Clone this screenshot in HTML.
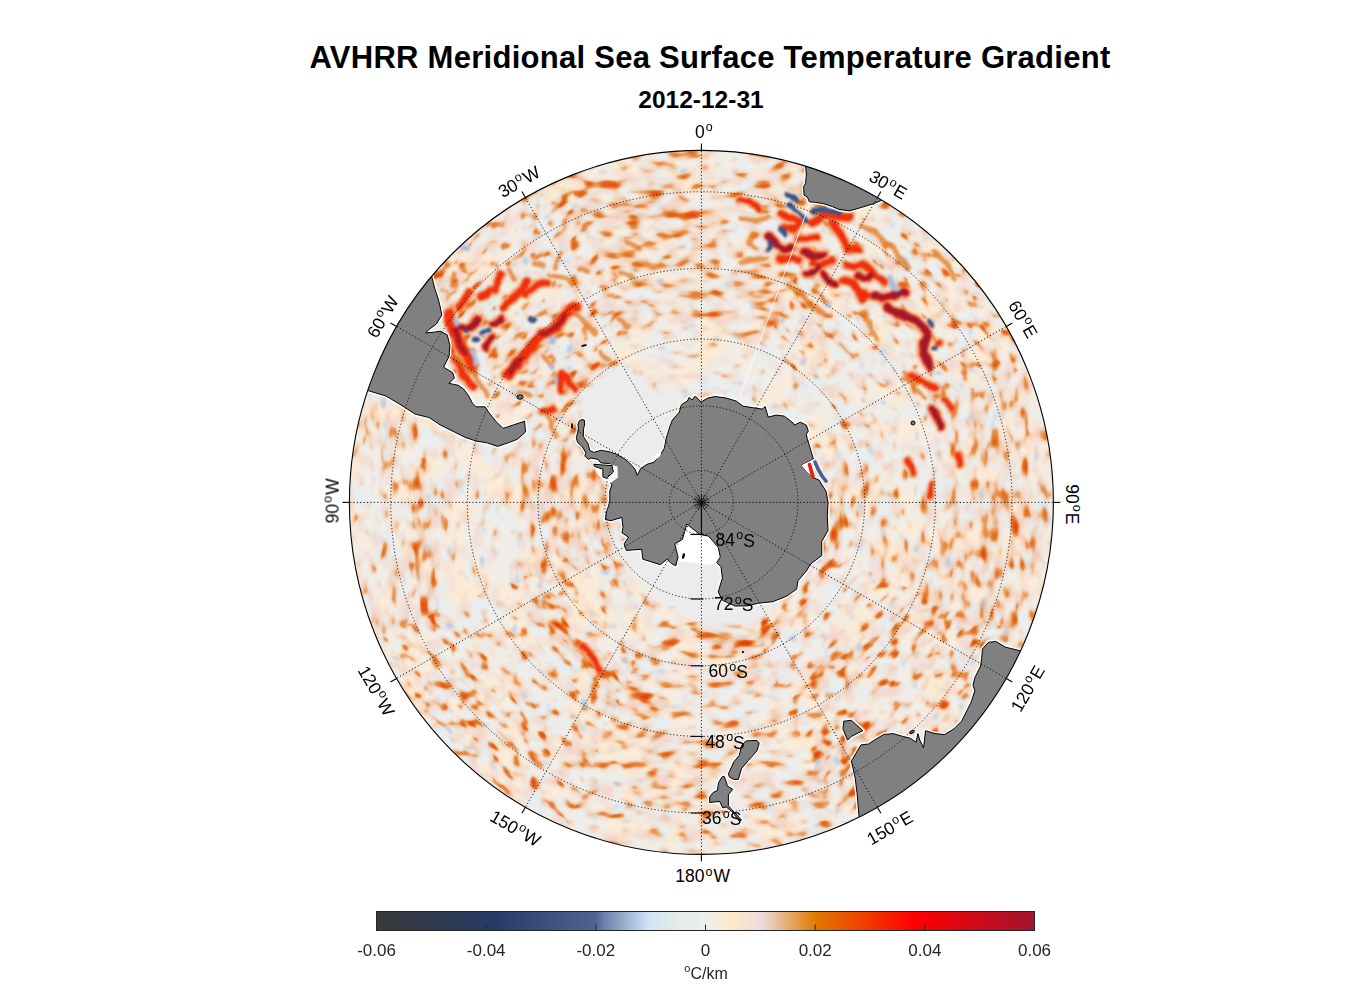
<!DOCTYPE html><html><head><meta charset="utf-8"><style>html,body{margin:0;padding:0;background:#fff;width:1356px;height:1000px;overflow:hidden}svg{display:block}text{font-family:"Liberation Sans",sans-serif}</style></head><body><svg width="1356" height="1000" viewBox="0 0 1356 1000"><text x="710" y="68" text-anchor="middle" font-size="31" letter-spacing="0.27" font-weight="bold" fill="#000">AVHRR Meridional Sea Surface Temperature Gradient</text><text x="701" y="108" text-anchor="middle" font-size="24.5" font-weight="bold" fill="#000">2012-12-31</text><defs><clipPath id="cc"><circle cx="701.4" cy="502.4" r="352.0"/></clipPath><filter id="bl" x="-5%" y="-5%" width="110%" height="110%"><feGaussianBlur stdDeviation="1"/></filter><filter id="bl3" x="-20%" y="-20%" width="140%" height="140%"><feGaussianBlur stdDeviation="2.5"/></filter><filter id="fcream" filterUnits="userSpaceOnUse" x="340" y="140" width="724" height="724" color-interpolation-filters="sRGB"><feTurbulence type="fractalNoise" baseFrequency="0.025" numOctaves="2" seed="8" result="t"/><feColorMatrix in="t" type="matrix" values="0 0 0 0 0 0 0 0 0 0 0 0 0 0 0 1 0 0 0 0" result="na"/><feComposite in="na" in2="SourceAlpha" operator="arithmetic" k1="0" k2="1" k3="0.20" k4="0" result="s"/><feComponentTransfer in="s" result="th"><feFuncA type="linear" slope="4.0" intercept="-2.000"/></feComponentTransfer><feGaussianBlur in="th" stdDeviation="2.0" result="bb"/><feFlood flood-color="#fcebd4"/><feComposite in2="bb" operator="in"/></filter><filter id="fgray" filterUnits="userSpaceOnUse" x="340" y="140" width="724" height="724" color-interpolation-filters="sRGB"><feTurbulence type="fractalNoise" baseFrequency="0.04" numOctaves="2" seed="17" result="t"/><feColorMatrix in="t" type="matrix" values="0 0 0 0 0 0 0 0 0 0 0 0 0 0 0 1 0 0 0 0" result="na"/><feComposite in="na" in2="SourceAlpha" operator="arithmetic" k1="0" k2="1" k3="0.20" k4="0" result="s"/><feComponentTransfer in="s" result="th"><feFuncA type="linear" slope="4.0" intercept="-2.200"/></feComponentTransfer><feGaussianBlur in="th" stdDeviation="1.5" result="bb"/><feFlood flood-color="#e8eef0"/><feComposite in2="bb" operator="in"/></filter><filter id="fsec0" filterUnits="userSpaceOnUse" x="560" y="140" width="282" height="366" color-interpolation-filters="sRGB"><feTurbulence type="fractalNoise" baseFrequency="0.07" numOctaves="2" seed="21" result="p_n"/><feGaussianBlur in="p_n" stdDeviation="3.5 0.7" result="p_m"/><feColorMatrix in="p_m" type="matrix" values="0 0 0 0 0 0 0 0 0 0 0 0 0 0 0 1 0 0 0 0" result="p_a"/><feComposite in="p_a" in2="SourceAlpha" operator="arithmetic" k1="0" k2="1" k3="0.25" k4="0" result="p"/><feComponentTransfer in="p" result="P_t"><feFuncA type="linear" slope="4.0" intercept="-2.120"/></feComponentTransfer><feGaussianBlur in="P_t" stdDeviation="1.2" result="P_b"/><feFlood flood-color="#f3d8cc" result="P_f"/><feComposite in="P_f" in2="P_b" operator="in" result="P"/><feTurbulence type="fractalNoise" baseFrequency="0.09" numOctaves="2" seed="33" result="q_n"/><feGaussianBlur in="q_n" stdDeviation="3.5 0.7" result="q_m"/><feColorMatrix in="q_m" type="matrix" values="0 0 0 0 0 0 0 0 0 0 0 0 0 0 0 1 0 0 0 0" result="q_a"/><feComposite in="q_a" in2="SourceAlpha" operator="arithmetic" k1="0" k2="1" k3="0.10" k4="0" result="q"/><feComponentTransfer in="q" result="B_t"><feFuncA type="linear" slope="8.0" intercept="-5.440"/></feComponentTransfer><feGaussianBlur in="B_t" stdDeviation="0.8" result="B_b"/><feFlood flood-color="#bccde6" result="B_f"/><feComposite in="B_f" in2="B_b" operator="in" result="B"/><feMerge><feMergeNode in="P"/><feMergeNode in="B"/></feMerge></filter><filter id="fmain0" filterUnits="userSpaceOnUse" x="560" y="140" width="282" height="366" color-interpolation-filters="sRGB"><feTurbulence type="fractalNoise" baseFrequency="0.1" numOctaves="2" seed="5" result="m_n"/><feGaussianBlur in="m_n" stdDeviation="3.5 0.7" result="m_m"/><feColorMatrix in="m_m" type="matrix" values="0 0 0 0 0 0 0 0 0 0 0 0 0 0 0 1 0 0 0 0" result="m_a"/><feComposite in="m_a" in2="SourceAlpha" operator="arithmetic" k1="0" k2="1" k3="0.45" k4="0" result="m"/><feComponentTransfer in="m" result="H_t"><feFuncA type="linear" slope="5.0" intercept="-3.000"/></feComponentTransfer><feGaussianBlur in="H_t" stdDeviation="1.0" result="H_b"/><feFlood flood-color="#efae7c" result="H_f"/><feComposite in="H_f" in2="H_b" operator="in" result="H"/><feComponentTransfer in="m" result="O_t"><feFuncA type="linear" slope="8.0" intercept="-5.520"/></feComponentTransfer><feGaussianBlur in="O_t" stdDeviation="0.7" result="O_b"/><feFlood flood-color="#e27826" result="O_f"/><feComposite in="O_f" in2="O_b" operator="in" result="O"/><feComponentTransfer in="m" result="Rr_t"><feFuncA type="linear" slope="8.0" intercept="-6.400"/></feComponentTransfer><feGaussianBlur in="Rr_t" stdDeviation="0.7" result="Rr_b"/><feFlood flood-color="#ee3a12" result="Rr_f"/><feComposite in="Rr_f" in2="Rr_b" operator="in" result="Rr"/><feMerge><feMergeNode in="H"/><feMergeNode in="O"/><feMergeNode in="Rr"/></feMerge></filter><filter id="fsec1" filterUnits="userSpaceOnUse" x="697" y="168" width="339" height="339" color-interpolation-filters="sRGB"><feTurbulence type="fractalNoise" baseFrequency="0.07" numOctaves="2" seed="21" result="p_n"/><feConvolveMatrix in="p_n" order="7" kernelMatrix="1 0 0 0 0 0 0 0 2 0 0 0 0 0 0 0 3 0 0 0 0 0 0 0 4 0 0 0 0 0 0 0 3 0 0 0 0 0 0 0 2 0 0 0 0 0 0 0 1" divisor="16" result="p_m_"/><feGaussianBlur in="p_m_" stdDeviation="0.6" result="p_m"/><feColorMatrix in="p_m" type="matrix" values="0 0 0 0 0 0 0 0 0 0 0 0 0 0 0 1 0 0 0 0" result="p_a"/><feComposite in="p_a" in2="SourceAlpha" operator="arithmetic" k1="0" k2="1" k3="0.25" k4="0" result="p"/><feComponentTransfer in="p" result="P_t"><feFuncA type="linear" slope="4.0" intercept="-2.120"/></feComponentTransfer><feGaussianBlur in="P_t" stdDeviation="1.2" result="P_b"/><feFlood flood-color="#f3d8cc" result="P_f"/><feComposite in="P_f" in2="P_b" operator="in" result="P"/><feTurbulence type="fractalNoise" baseFrequency="0.09" numOctaves="2" seed="33" result="q_n"/><feConvolveMatrix in="q_n" order="7" kernelMatrix="1 0 0 0 0 0 0 0 2 0 0 0 0 0 0 0 3 0 0 0 0 0 0 0 4 0 0 0 0 0 0 0 3 0 0 0 0 0 0 0 2 0 0 0 0 0 0 0 1" divisor="16" result="q_m_"/><feGaussianBlur in="q_m_" stdDeviation="0.6" result="q_m"/><feColorMatrix in="q_m" type="matrix" values="0 0 0 0 0 0 0 0 0 0 0 0 0 0 0 1 0 0 0 0" result="q_a"/><feComposite in="q_a" in2="SourceAlpha" operator="arithmetic" k1="0" k2="1" k3="0.10" k4="0" result="q"/><feComponentTransfer in="q" result="B_t"><feFuncA type="linear" slope="8.0" intercept="-5.440"/></feComponentTransfer><feGaussianBlur in="B_t" stdDeviation="0.8" result="B_b"/><feFlood flood-color="#bccde6" result="B_f"/><feComposite in="B_f" in2="B_b" operator="in" result="B"/><feMerge><feMergeNode in="P"/><feMergeNode in="B"/></feMerge></filter><filter id="fmain1" filterUnits="userSpaceOnUse" x="697" y="168" width="339" height="339" color-interpolation-filters="sRGB"><feTurbulence type="fractalNoise" baseFrequency="0.1" numOctaves="2" seed="5" result="m_n"/><feConvolveMatrix in="m_n" order="7" kernelMatrix="1 0 0 0 0 0 0 0 2 0 0 0 0 0 0 0 3 0 0 0 0 0 0 0 4 0 0 0 0 0 0 0 3 0 0 0 0 0 0 0 2 0 0 0 0 0 0 0 1" divisor="16" result="m_m_"/><feGaussianBlur in="m_m_" stdDeviation="0.6" result="m_m"/><feColorMatrix in="m_m" type="matrix" values="0 0 0 0 0 0 0 0 0 0 0 0 0 0 0 1 0 0 0 0" result="m_a"/><feComposite in="m_a" in2="SourceAlpha" operator="arithmetic" k1="0" k2="1" k3="0.45" k4="0" result="m"/><feComponentTransfer in="m" result="H_t"><feFuncA type="linear" slope="5.0" intercept="-3.000"/></feComponentTransfer><feGaussianBlur in="H_t" stdDeviation="1.0" result="H_b"/><feFlood flood-color="#efae7c" result="H_f"/><feComposite in="H_f" in2="H_b" operator="in" result="H"/><feComponentTransfer in="m" result="O_t"><feFuncA type="linear" slope="8.0" intercept="-5.520"/></feComponentTransfer><feGaussianBlur in="O_t" stdDeviation="0.7" result="O_b"/><feFlood flood-color="#e27826" result="O_f"/><feComposite in="O_f" in2="O_b" operator="in" result="O"/><feComponentTransfer in="m" result="Rr_t"><feFuncA type="linear" slope="8.0" intercept="-6.400"/></feComponentTransfer><feGaussianBlur in="Rr_t" stdDeviation="0.7" result="Rr_b"/><feFlood flood-color="#ee3a12" result="Rr_f"/><feComposite in="Rr_f" in2="Rr_b" operator="in" result="Rr"/><feMerge><feMergeNode in="H"/><feMergeNode in="O"/><feMergeNode in="Rr"/></feMerge></filter><filter id="fsec2" filterUnits="userSpaceOnUse" x="697" y="361" width="366" height="282" color-interpolation-filters="sRGB"><feTurbulence type="fractalNoise" baseFrequency="0.07" numOctaves="2" seed="21" result="p_n"/><feGaussianBlur in="p_n" stdDeviation="0.7 3.5" result="p_m"/><feColorMatrix in="p_m" type="matrix" values="0 0 0 0 0 0 0 0 0 0 0 0 0 0 0 1 0 0 0 0" result="p_a"/><feComposite in="p_a" in2="SourceAlpha" operator="arithmetic" k1="0" k2="1" k3="0.25" k4="0" result="p"/><feComponentTransfer in="p" result="P_t"><feFuncA type="linear" slope="4.0" intercept="-2.120"/></feComponentTransfer><feGaussianBlur in="P_t" stdDeviation="1.2" result="P_b"/><feFlood flood-color="#f3d8cc" result="P_f"/><feComposite in="P_f" in2="P_b" operator="in" result="P"/><feTurbulence type="fractalNoise" baseFrequency="0.09" numOctaves="2" seed="33" result="q_n"/><feGaussianBlur in="q_n" stdDeviation="0.7 3.5" result="q_m"/><feColorMatrix in="q_m" type="matrix" values="0 0 0 0 0 0 0 0 0 0 0 0 0 0 0 1 0 0 0 0" result="q_a"/><feComposite in="q_a" in2="SourceAlpha" operator="arithmetic" k1="0" k2="1" k3="0.10" k4="0" result="q"/><feComponentTransfer in="q" result="B_t"><feFuncA type="linear" slope="8.0" intercept="-5.440"/></feComponentTransfer><feGaussianBlur in="B_t" stdDeviation="0.8" result="B_b"/><feFlood flood-color="#bccde6" result="B_f"/><feComposite in="B_f" in2="B_b" operator="in" result="B"/><feMerge><feMergeNode in="P"/><feMergeNode in="B"/></feMerge></filter><filter id="fmain2" filterUnits="userSpaceOnUse" x="697" y="361" width="366" height="282" color-interpolation-filters="sRGB"><feTurbulence type="fractalNoise" baseFrequency="0.1" numOctaves="2" seed="5" result="m_n"/><feGaussianBlur in="m_n" stdDeviation="0.7 3.5" result="m_m"/><feColorMatrix in="m_m" type="matrix" values="0 0 0 0 0 0 0 0 0 0 0 0 0 0 0 1 0 0 0 0" result="m_a"/><feComposite in="m_a" in2="SourceAlpha" operator="arithmetic" k1="0" k2="1" k3="0.45" k4="0" result="m"/><feComponentTransfer in="m" result="H_t"><feFuncA type="linear" slope="5.0" intercept="-3.000"/></feComponentTransfer><feGaussianBlur in="H_t" stdDeviation="1.0" result="H_b"/><feFlood flood-color="#efae7c" result="H_f"/><feComposite in="H_f" in2="H_b" operator="in" result="H"/><feComponentTransfer in="m" result="O_t"><feFuncA type="linear" slope="8.0" intercept="-5.520"/></feComponentTransfer><feGaussianBlur in="O_t" stdDeviation="0.7" result="O_b"/><feFlood flood-color="#e27826" result="O_f"/><feComposite in="O_f" in2="O_b" operator="in" result="O"/><feComponentTransfer in="m" result="Rr_t"><feFuncA type="linear" slope="8.0" intercept="-6.400"/></feComponentTransfer><feGaussianBlur in="Rr_t" stdDeviation="0.7" result="Rr_b"/><feFlood flood-color="#ee3a12" result="Rr_f"/><feComposite in="Rr_f" in2="Rr_b" operator="in" result="Rr"/><feMerge><feMergeNode in="H"/><feMergeNode in="O"/><feMergeNode in="Rr"/></feMerge></filter><filter id="fsec3" filterUnits="userSpaceOnUse" x="697" y="498" width="339" height="339" color-interpolation-filters="sRGB"><feTurbulence type="fractalNoise" baseFrequency="0.07" numOctaves="2" seed="21" result="p_n"/><feConvolveMatrix in="p_n" order="7" kernelMatrix="0 0 0 0 0 0 1 0 0 0 0 0 2 0 0 0 0 0 3 0 0 0 0 0 4 0 0 0 0 0 3 0 0 0 0 0 2 0 0 0 0 0 1 0 0 0 0 0 0" divisor="16" result="p_m_"/><feGaussianBlur in="p_m_" stdDeviation="0.6" result="p_m"/><feColorMatrix in="p_m" type="matrix" values="0 0 0 0 0 0 0 0 0 0 0 0 0 0 0 1 0 0 0 0" result="p_a"/><feComposite in="p_a" in2="SourceAlpha" operator="arithmetic" k1="0" k2="1" k3="0.25" k4="0" result="p"/><feComponentTransfer in="p" result="P_t"><feFuncA type="linear" slope="4.0" intercept="-2.120"/></feComponentTransfer><feGaussianBlur in="P_t" stdDeviation="1.2" result="P_b"/><feFlood flood-color="#f3d8cc" result="P_f"/><feComposite in="P_f" in2="P_b" operator="in" result="P"/><feTurbulence type="fractalNoise" baseFrequency="0.09" numOctaves="2" seed="33" result="q_n"/><feConvolveMatrix in="q_n" order="7" kernelMatrix="0 0 0 0 0 0 1 0 0 0 0 0 2 0 0 0 0 0 3 0 0 0 0 0 4 0 0 0 0 0 3 0 0 0 0 0 2 0 0 0 0 0 1 0 0 0 0 0 0" divisor="16" result="q_m_"/><feGaussianBlur in="q_m_" stdDeviation="0.6" result="q_m"/><feColorMatrix in="q_m" type="matrix" values="0 0 0 0 0 0 0 0 0 0 0 0 0 0 0 1 0 0 0 0" result="q_a"/><feComposite in="q_a" in2="SourceAlpha" operator="arithmetic" k1="0" k2="1" k3="0.10" k4="0" result="q"/><feComponentTransfer in="q" result="B_t"><feFuncA type="linear" slope="8.0" intercept="-5.440"/></feComponentTransfer><feGaussianBlur in="B_t" stdDeviation="0.8" result="B_b"/><feFlood flood-color="#bccde6" result="B_f"/><feComposite in="B_f" in2="B_b" operator="in" result="B"/><feMerge><feMergeNode in="P"/><feMergeNode in="B"/></feMerge></filter><filter id="fmain3" filterUnits="userSpaceOnUse" x="697" y="498" width="339" height="339" color-interpolation-filters="sRGB"><feTurbulence type="fractalNoise" baseFrequency="0.1" numOctaves="2" seed="5" result="m_n"/><feConvolveMatrix in="m_n" order="7" kernelMatrix="0 0 0 0 0 0 1 0 0 0 0 0 2 0 0 0 0 0 3 0 0 0 0 0 4 0 0 0 0 0 3 0 0 0 0 0 2 0 0 0 0 0 1 0 0 0 0 0 0" divisor="16" result="m_m_"/><feGaussianBlur in="m_m_" stdDeviation="0.6" result="m_m"/><feColorMatrix in="m_m" type="matrix" values="0 0 0 0 0 0 0 0 0 0 0 0 0 0 0 1 0 0 0 0" result="m_a"/><feComposite in="m_a" in2="SourceAlpha" operator="arithmetic" k1="0" k2="1" k3="0.45" k4="0" result="m"/><feComponentTransfer in="m" result="H_t"><feFuncA type="linear" slope="5.0" intercept="-3.000"/></feComponentTransfer><feGaussianBlur in="H_t" stdDeviation="1.0" result="H_b"/><feFlood flood-color="#efae7c" result="H_f"/><feComposite in="H_f" in2="H_b" operator="in" result="H"/><feComponentTransfer in="m" result="O_t"><feFuncA type="linear" slope="8.0" intercept="-5.520"/></feComponentTransfer><feGaussianBlur in="O_t" stdDeviation="0.7" result="O_b"/><feFlood flood-color="#e27826" result="O_f"/><feComposite in="O_f" in2="O_b" operator="in" result="O"/><feComponentTransfer in="m" result="Rr_t"><feFuncA type="linear" slope="8.0" intercept="-6.400"/></feComponentTransfer><feGaussianBlur in="Rr_t" stdDeviation="0.7" result="Rr_b"/><feFlood flood-color="#ee3a12" result="Rr_f"/><feComposite in="Rr_f" in2="Rr_b" operator="in" result="Rr"/><feMerge><feMergeNode in="H"/><feMergeNode in="O"/><feMergeNode in="Rr"/></feMerge></filter><filter id="fsec4" filterUnits="userSpaceOnUse" x="560" y="498" width="282" height="366" color-interpolation-filters="sRGB"><feTurbulence type="fractalNoise" baseFrequency="0.07" numOctaves="2" seed="21" result="p_n"/><feGaussianBlur in="p_n" stdDeviation="3.5 0.7" result="p_m"/><feColorMatrix in="p_m" type="matrix" values="0 0 0 0 0 0 0 0 0 0 0 0 0 0 0 1 0 0 0 0" result="p_a"/><feComposite in="p_a" in2="SourceAlpha" operator="arithmetic" k1="0" k2="1" k3="0.25" k4="0" result="p"/><feComponentTransfer in="p" result="P_t"><feFuncA type="linear" slope="4.0" intercept="-2.120"/></feComponentTransfer><feGaussianBlur in="P_t" stdDeviation="1.2" result="P_b"/><feFlood flood-color="#f3d8cc" result="P_f"/><feComposite in="P_f" in2="P_b" operator="in" result="P"/><feTurbulence type="fractalNoise" baseFrequency="0.09" numOctaves="2" seed="33" result="q_n"/><feGaussianBlur in="q_n" stdDeviation="3.5 0.7" result="q_m"/><feColorMatrix in="q_m" type="matrix" values="0 0 0 0 0 0 0 0 0 0 0 0 0 0 0 1 0 0 0 0" result="q_a"/><feComposite in="q_a" in2="SourceAlpha" operator="arithmetic" k1="0" k2="1" k3="0.10" k4="0" result="q"/><feComponentTransfer in="q" result="B_t"><feFuncA type="linear" slope="8.0" intercept="-5.440"/></feComponentTransfer><feGaussianBlur in="B_t" stdDeviation="0.8" result="B_b"/><feFlood flood-color="#bccde6" result="B_f"/><feComposite in="B_f" in2="B_b" operator="in" result="B"/><feMerge><feMergeNode in="P"/><feMergeNode in="B"/></feMerge></filter><filter id="fmain4" filterUnits="userSpaceOnUse" x="560" y="498" width="282" height="366" color-interpolation-filters="sRGB"><feTurbulence type="fractalNoise" baseFrequency="0.1" numOctaves="2" seed="5" result="m_n"/><feGaussianBlur in="m_n" stdDeviation="3.5 0.7" result="m_m"/><feColorMatrix in="m_m" type="matrix" values="0 0 0 0 0 0 0 0 0 0 0 0 0 0 0 1 0 0 0 0" result="m_a"/><feComposite in="m_a" in2="SourceAlpha" operator="arithmetic" k1="0" k2="1" k3="0.45" k4="0" result="m"/><feComponentTransfer in="m" result="H_t"><feFuncA type="linear" slope="5.0" intercept="-3.000"/></feComponentTransfer><feGaussianBlur in="H_t" stdDeviation="1.0" result="H_b"/><feFlood flood-color="#efae7c" result="H_f"/><feComposite in="H_f" in2="H_b" operator="in" result="H"/><feComponentTransfer in="m" result="O_t"><feFuncA type="linear" slope="8.0" intercept="-5.520"/></feComponentTransfer><feGaussianBlur in="O_t" stdDeviation="0.7" result="O_b"/><feFlood flood-color="#e27826" result="O_f"/><feComposite in="O_f" in2="O_b" operator="in" result="O"/><feComponentTransfer in="m" result="Rr_t"><feFuncA type="linear" slope="8.0" intercept="-6.400"/></feComponentTransfer><feGaussianBlur in="Rr_t" stdDeviation="0.7" result="Rr_b"/><feFlood flood-color="#ee3a12" result="Rr_f"/><feComposite in="Rr_f" in2="Rr_b" operator="in" result="Rr"/><feMerge><feMergeNode in="H"/><feMergeNode in="O"/><feMergeNode in="Rr"/></feMerge></filter><filter id="fsec5" filterUnits="userSpaceOnUse" x="367" y="498" width="339" height="339" color-interpolation-filters="sRGB"><feTurbulence type="fractalNoise" baseFrequency="0.07" numOctaves="2" seed="21" result="p_n"/><feConvolveMatrix in="p_n" order="7" kernelMatrix="1 0 0 0 0 0 0 0 2 0 0 0 0 0 0 0 3 0 0 0 0 0 0 0 4 0 0 0 0 0 0 0 3 0 0 0 0 0 0 0 2 0 0 0 0 0 0 0 1" divisor="16" result="p_m_"/><feGaussianBlur in="p_m_" stdDeviation="0.6" result="p_m"/><feColorMatrix in="p_m" type="matrix" values="0 0 0 0 0 0 0 0 0 0 0 0 0 0 0 1 0 0 0 0" result="p_a"/><feComposite in="p_a" in2="SourceAlpha" operator="arithmetic" k1="0" k2="1" k3="0.25" k4="0" result="p"/><feComponentTransfer in="p" result="P_t"><feFuncA type="linear" slope="4.0" intercept="-2.120"/></feComponentTransfer><feGaussianBlur in="P_t" stdDeviation="1.2" result="P_b"/><feFlood flood-color="#f3d8cc" result="P_f"/><feComposite in="P_f" in2="P_b" operator="in" result="P"/><feTurbulence type="fractalNoise" baseFrequency="0.09" numOctaves="2" seed="33" result="q_n"/><feConvolveMatrix in="q_n" order="7" kernelMatrix="1 0 0 0 0 0 0 0 2 0 0 0 0 0 0 0 3 0 0 0 0 0 0 0 4 0 0 0 0 0 0 0 3 0 0 0 0 0 0 0 2 0 0 0 0 0 0 0 1" divisor="16" result="q_m_"/><feGaussianBlur in="q_m_" stdDeviation="0.6" result="q_m"/><feColorMatrix in="q_m" type="matrix" values="0 0 0 0 0 0 0 0 0 0 0 0 0 0 0 1 0 0 0 0" result="q_a"/><feComposite in="q_a" in2="SourceAlpha" operator="arithmetic" k1="0" k2="1" k3="0.10" k4="0" result="q"/><feComponentTransfer in="q" result="B_t"><feFuncA type="linear" slope="8.0" intercept="-5.440"/></feComponentTransfer><feGaussianBlur in="B_t" stdDeviation="0.8" result="B_b"/><feFlood flood-color="#bccde6" result="B_f"/><feComposite in="B_f" in2="B_b" operator="in" result="B"/><feMerge><feMergeNode in="P"/><feMergeNode in="B"/></feMerge></filter><filter id="fmain5" filterUnits="userSpaceOnUse" x="367" y="498" width="339" height="339" color-interpolation-filters="sRGB"><feTurbulence type="fractalNoise" baseFrequency="0.1" numOctaves="2" seed="5" result="m_n"/><feConvolveMatrix in="m_n" order="7" kernelMatrix="1 0 0 0 0 0 0 0 2 0 0 0 0 0 0 0 3 0 0 0 0 0 0 0 4 0 0 0 0 0 0 0 3 0 0 0 0 0 0 0 2 0 0 0 0 0 0 0 1" divisor="16" result="m_m_"/><feGaussianBlur in="m_m_" stdDeviation="0.6" result="m_m"/><feColorMatrix in="m_m" type="matrix" values="0 0 0 0 0 0 0 0 0 0 0 0 0 0 0 1 0 0 0 0" result="m_a"/><feComposite in="m_a" in2="SourceAlpha" operator="arithmetic" k1="0" k2="1" k3="0.45" k4="0" result="m"/><feComponentTransfer in="m" result="H_t"><feFuncA type="linear" slope="5.0" intercept="-3.000"/></feComponentTransfer><feGaussianBlur in="H_t" stdDeviation="1.0" result="H_b"/><feFlood flood-color="#efae7c" result="H_f"/><feComposite in="H_f" in2="H_b" operator="in" result="H"/><feComponentTransfer in="m" result="O_t"><feFuncA type="linear" slope="8.0" intercept="-5.520"/></feComponentTransfer><feGaussianBlur in="O_t" stdDeviation="0.7" result="O_b"/><feFlood flood-color="#e27826" result="O_f"/><feComposite in="O_f" in2="O_b" operator="in" result="O"/><feComponentTransfer in="m" result="Rr_t"><feFuncA type="linear" slope="8.0" intercept="-6.400"/></feComponentTransfer><feGaussianBlur in="Rr_t" stdDeviation="0.7" result="Rr_b"/><feFlood flood-color="#ee3a12" result="Rr_f"/><feComposite in="Rr_f" in2="Rr_b" operator="in" result="Rr"/><feMerge><feMergeNode in="H"/><feMergeNode in="O"/><feMergeNode in="Rr"/></feMerge></filter><filter id="fsec6" filterUnits="userSpaceOnUse" x="339" y="361" width="366" height="282" color-interpolation-filters="sRGB"><feTurbulence type="fractalNoise" baseFrequency="0.07" numOctaves="2" seed="21" result="p_n"/><feGaussianBlur in="p_n" stdDeviation="0.7 3.5" result="p_m"/><feColorMatrix in="p_m" type="matrix" values="0 0 0 0 0 0 0 0 0 0 0 0 0 0 0 1 0 0 0 0" result="p_a"/><feComposite in="p_a" in2="SourceAlpha" operator="arithmetic" k1="0" k2="1" k3="0.25" k4="0" result="p"/><feComponentTransfer in="p" result="P_t"><feFuncA type="linear" slope="4.0" intercept="-2.120"/></feComponentTransfer><feGaussianBlur in="P_t" stdDeviation="1.2" result="P_b"/><feFlood flood-color="#f3d8cc" result="P_f"/><feComposite in="P_f" in2="P_b" operator="in" result="P"/><feTurbulence type="fractalNoise" baseFrequency="0.09" numOctaves="2" seed="33" result="q_n"/><feGaussianBlur in="q_n" stdDeviation="0.7 3.5" result="q_m"/><feColorMatrix in="q_m" type="matrix" values="0 0 0 0 0 0 0 0 0 0 0 0 0 0 0 1 0 0 0 0" result="q_a"/><feComposite in="q_a" in2="SourceAlpha" operator="arithmetic" k1="0" k2="1" k3="0.10" k4="0" result="q"/><feComponentTransfer in="q" result="B_t"><feFuncA type="linear" slope="8.0" intercept="-5.440"/></feComponentTransfer><feGaussianBlur in="B_t" stdDeviation="0.8" result="B_b"/><feFlood flood-color="#bccde6" result="B_f"/><feComposite in="B_f" in2="B_b" operator="in" result="B"/><feMerge><feMergeNode in="P"/><feMergeNode in="B"/></feMerge></filter><filter id="fmain6" filterUnits="userSpaceOnUse" x="339" y="361" width="366" height="282" color-interpolation-filters="sRGB"><feTurbulence type="fractalNoise" baseFrequency="0.1" numOctaves="2" seed="5" result="m_n"/><feGaussianBlur in="m_n" stdDeviation="0.7 3.5" result="m_m"/><feColorMatrix in="m_m" type="matrix" values="0 0 0 0 0 0 0 0 0 0 0 0 0 0 0 1 0 0 0 0" result="m_a"/><feComposite in="m_a" in2="SourceAlpha" operator="arithmetic" k1="0" k2="1" k3="0.45" k4="0" result="m"/><feComponentTransfer in="m" result="H_t"><feFuncA type="linear" slope="5.0" intercept="-3.000"/></feComponentTransfer><feGaussianBlur in="H_t" stdDeviation="1.0" result="H_b"/><feFlood flood-color="#efae7c" result="H_f"/><feComposite in="H_f" in2="H_b" operator="in" result="H"/><feComponentTransfer in="m" result="O_t"><feFuncA type="linear" slope="8.0" intercept="-5.520"/></feComponentTransfer><feGaussianBlur in="O_t" stdDeviation="0.7" result="O_b"/><feFlood flood-color="#e27826" result="O_f"/><feComposite in="O_f" in2="O_b" operator="in" result="O"/><feComponentTransfer in="m" result="Rr_t"><feFuncA type="linear" slope="8.0" intercept="-6.400"/></feComponentTransfer><feGaussianBlur in="Rr_t" stdDeviation="0.7" result="Rr_b"/><feFlood flood-color="#ee3a12" result="Rr_f"/><feComposite in="Rr_f" in2="Rr_b" operator="in" result="Rr"/><feMerge><feMergeNode in="H"/><feMergeNode in="O"/><feMergeNode in="Rr"/></feMerge></filter><filter id="fsec7" filterUnits="userSpaceOnUse" x="367" y="168" width="339" height="339" color-interpolation-filters="sRGB"><feTurbulence type="fractalNoise" baseFrequency="0.07" numOctaves="2" seed="21" result="p_n"/><feConvolveMatrix in="p_n" order="7" kernelMatrix="0 0 0 0 0 0 1 0 0 0 0 0 2 0 0 0 0 0 3 0 0 0 0 0 4 0 0 0 0 0 3 0 0 0 0 0 2 0 0 0 0 0 1 0 0 0 0 0 0" divisor="16" result="p_m_"/><feGaussianBlur in="p_m_" stdDeviation="0.6" result="p_m"/><feColorMatrix in="p_m" type="matrix" values="0 0 0 0 0 0 0 0 0 0 0 0 0 0 0 1 0 0 0 0" result="p_a"/><feComposite in="p_a" in2="SourceAlpha" operator="arithmetic" k1="0" k2="1" k3="0.25" k4="0" result="p"/><feComponentTransfer in="p" result="P_t"><feFuncA type="linear" slope="4.0" intercept="-2.120"/></feComponentTransfer><feGaussianBlur in="P_t" stdDeviation="1.2" result="P_b"/><feFlood flood-color="#f3d8cc" result="P_f"/><feComposite in="P_f" in2="P_b" operator="in" result="P"/><feTurbulence type="fractalNoise" baseFrequency="0.09" numOctaves="2" seed="33" result="q_n"/><feConvolveMatrix in="q_n" order="7" kernelMatrix="0 0 0 0 0 0 1 0 0 0 0 0 2 0 0 0 0 0 3 0 0 0 0 0 4 0 0 0 0 0 3 0 0 0 0 0 2 0 0 0 0 0 1 0 0 0 0 0 0" divisor="16" result="q_m_"/><feGaussianBlur in="q_m_" stdDeviation="0.6" result="q_m"/><feColorMatrix in="q_m" type="matrix" values="0 0 0 0 0 0 0 0 0 0 0 0 0 0 0 1 0 0 0 0" result="q_a"/><feComposite in="q_a" in2="SourceAlpha" operator="arithmetic" k1="0" k2="1" k3="0.10" k4="0" result="q"/><feComponentTransfer in="q" result="B_t"><feFuncA type="linear" slope="8.0" intercept="-5.440"/></feComponentTransfer><feGaussianBlur in="B_t" stdDeviation="0.8" result="B_b"/><feFlood flood-color="#bccde6" result="B_f"/><feComposite in="B_f" in2="B_b" operator="in" result="B"/><feMerge><feMergeNode in="P"/><feMergeNode in="B"/></feMerge></filter><filter id="fmain7" filterUnits="userSpaceOnUse" x="367" y="168" width="339" height="339" color-interpolation-filters="sRGB"><feTurbulence type="fractalNoise" baseFrequency="0.1" numOctaves="2" seed="5" result="m_n"/><feConvolveMatrix in="m_n" order="7" kernelMatrix="0 0 0 0 0 0 1 0 0 0 0 0 2 0 0 0 0 0 3 0 0 0 0 0 4 0 0 0 0 0 3 0 0 0 0 0 2 0 0 0 0 0 1 0 0 0 0 0 0" divisor="16" result="m_m_"/><feGaussianBlur in="m_m_" stdDeviation="0.6" result="m_m"/><feColorMatrix in="m_m" type="matrix" values="0 0 0 0 0 0 0 0 0 0 0 0 0 0 0 1 0 0 0 0" result="m_a"/><feComposite in="m_a" in2="SourceAlpha" operator="arithmetic" k1="0" k2="1" k3="0.45" k4="0" result="m"/><feComponentTransfer in="m" result="H_t"><feFuncA type="linear" slope="5.0" intercept="-3.000"/></feComponentTransfer><feGaussianBlur in="H_t" stdDeviation="1.0" result="H_b"/><feFlood flood-color="#efae7c" result="H_f"/><feComposite in="H_f" in2="H_b" operator="in" result="H"/><feComponentTransfer in="m" result="O_t"><feFuncA type="linear" slope="8.0" intercept="-5.520"/></feComponentTransfer><feGaussianBlur in="O_t" stdDeviation="0.7" result="O_b"/><feFlood flood-color="#e27826" result="O_f"/><feComposite in="O_f" in2="O_b" operator="in" result="O"/><feComponentTransfer in="m" result="Rr_t"><feFuncA type="linear" slope="8.0" intercept="-6.400"/></feComponentTransfer><feGaussianBlur in="Rr_t" stdDeviation="0.7" result="Rr_b"/><feFlood flood-color="#ee3a12" result="Rr_f"/><feComposite in="Rr_f" in2="Rr_b" operator="in" result="Rr"/><feMerge><feMergeNode in="H"/><feMergeNode in="O"/><feMergeNode in="Rr"/></feMerge></filter><clipPath id="s0"><path d="M701.4 502.4L564.4 171.7L597.5 159.8L631.6 151.3L666.3 146.1L701.4 144.4L736.5 146.1L771.2 151.3L805.3 159.8L838.4 171.7Z"/></clipPath><clipPath id="s1"><path d="M701.4 502.4L838.4 171.7L870.2 186.7L900.3 204.7L928.5 225.7L954.5 249.3L978.1 275.3L999.1 303.5L1017.1 333.6L1032.1 365.4Z"/></clipPath><clipPath id="s2"><path d="M701.4 502.4L1032.1 365.4L1044.0 398.5L1052.5 432.6L1057.7 467.3L1059.4 502.4L1057.7 537.5L1052.5 572.2L1044.0 606.3L1032.1 639.4Z"/></clipPath><clipPath id="s3"><path d="M701.4 502.4L1032.1 639.4L1017.1 671.2L999.1 701.3L978.1 729.5L954.5 755.5L928.5 779.1L900.3 800.1L870.2 818.1L838.4 833.1Z"/></clipPath><clipPath id="s4"><path d="M701.4 502.4L838.4 833.1L805.3 845.0L771.2 853.5L736.5 858.7L701.4 860.4L666.3 858.7L631.6 853.5L597.5 845.0L564.4 833.1Z"/></clipPath><clipPath id="s5"><path d="M701.4 502.4L564.4 833.1L532.6 818.1L502.5 800.1L474.3 779.1L448.3 755.5L424.7 729.5L403.7 701.3L385.7 671.2L370.7 639.4Z"/></clipPath><clipPath id="s6"><path d="M701.4 502.4L370.7 639.4L358.8 606.3L350.3 572.2L345.1 537.5L343.4 502.4L345.1 467.3L350.3 432.6L358.8 398.5L370.7 365.4Z"/></clipPath><clipPath id="s7"><path d="M701.4 502.4L370.7 365.4L385.7 333.6L403.7 303.5L424.7 275.3L448.3 249.3L474.3 225.7L502.5 204.7L532.6 186.7L564.4 171.7Z"/></clipPath><radialGradient id="rg"><stop offset="0" stop-opacity="1"/><stop offset="0.45" stop-opacity="0.8"/><stop offset="1" stop-opacity="0"/></radialGradient><g id="dens"><g fill="url(#rg)"><circle cx="554.6" cy="179.4" r="62" fill-opacity="0.273"/><circle cx="613.4" cy="179.4" r="62" fill-opacity="0.222"/><circle cx="672.1" cy="179.4" r="62" fill-opacity="0.237"/><circle cx="730.9" cy="179.4" r="62" fill-opacity="0.103"/><circle cx="789.6" cy="179.4" r="62" fill-opacity="0.330"/><circle cx="848.4" cy="179.4" r="62" fill-opacity="0.160"/><circle cx="437.1" cy="238.1" r="62" fill-opacity="0.128"/><circle cx="495.9" cy="238.1" r="62" fill-opacity="0.125"/><circle cx="554.6" cy="238.1" r="62" fill-opacity="0.122"/><circle cx="613.4" cy="238.1" r="62" fill-opacity="0.205"/><circle cx="672.1" cy="238.1" r="62" fill-opacity="0.263"/><circle cx="730.9" cy="238.1" r="62" fill-opacity="0.148"/><circle cx="907.1" cy="238.1" r="62" fill-opacity="0.158"/><circle cx="1024.6" cy="238.1" r="62" fill-opacity="0.128"/><circle cx="437.1" cy="296.9" r="62" fill-opacity="0.361"/><circle cx="554.6" cy="296.9" r="62" fill-opacity="0.020"/><circle cx="613.4" cy="296.9" r="62" fill-opacity="0.229"/><circle cx="672.1" cy="296.9" r="62" fill-opacity="0.168"/><circle cx="730.9" cy="296.9" r="62" fill-opacity="0.234"/><circle cx="789.6" cy="296.9" r="62" fill-opacity="0.327"/><circle cx="848.4" cy="296.9" r="62" fill-opacity="0.034"/><circle cx="907.1" cy="296.9" r="62" fill-opacity="0.127"/><circle cx="965.9" cy="296.9" r="62" fill-opacity="0.137"/><circle cx="1024.6" cy="296.9" r="62" fill-opacity="0.128"/><circle cx="495.9" cy="355.6" r="62" fill-opacity="0.219"/><circle cx="554.6" cy="355.6" r="62" fill-opacity="0.260"/><circle cx="672.1" cy="355.6" r="62" fill-opacity="0.019"/><circle cx="789.6" cy="355.6" r="62" fill-opacity="0.091"/><circle cx="848.4" cy="355.6" r="62" fill-opacity="0.123"/><circle cx="907.1" cy="355.6" r="62" fill-opacity="0.021"/><circle cx="965.9" cy="355.6" r="62" fill-opacity="0.119"/><circle cx="1024.6" cy="355.6" r="62" fill-opacity="0.184"/><circle cx="378.4" cy="414.4" r="62" fill-opacity="0.277"/><circle cx="495.9" cy="414.4" r="62" fill-opacity="0.037"/><circle cx="613.4" cy="414.4" r="62" fill-opacity="0.613"/><circle cx="672.1" cy="414.4" r="62" fill-opacity="0.121"/><circle cx="730.9" cy="414.4" r="62" fill-opacity="0.032"/><circle cx="848.4" cy="414.4" r="62" fill-opacity="0.081"/><circle cx="965.9" cy="414.4" r="62" fill-opacity="0.220"/><circle cx="1024.6" cy="414.4" r="62" fill-opacity="0.146"/><circle cx="378.4" cy="473.1" r="62" fill-opacity="0.133"/><circle cx="437.1" cy="473.1" r="62" fill-opacity="0.102"/><circle cx="495.9" cy="473.1" r="62" fill-opacity="0.079"/><circle cx="554.6" cy="473.1" r="62" fill-opacity="0.299"/><circle cx="848.4" cy="473.1" r="62" fill-opacity="0.222"/><circle cx="907.1" cy="473.1" r="62" fill-opacity="0.053"/><circle cx="965.9" cy="473.1" r="62" fill-opacity="0.123"/><circle cx="1024.6" cy="473.1" r="62" fill-opacity="0.241"/><circle cx="378.4" cy="531.9" r="62" fill-opacity="0.027"/><circle cx="437.1" cy="531.9" r="62" fill-opacity="0.169"/><circle cx="495.9" cy="531.9" r="62" fill-opacity="0.055"/><circle cx="554.6" cy="531.9" r="62" fill-opacity="0.245"/><circle cx="613.4" cy="531.9" r="62" fill-opacity="0.160"/><circle cx="848.4" cy="531.9" r="62" fill-opacity="0.169"/><circle cx="907.1" cy="531.9" r="62" fill-opacity="0.092"/><circle cx="965.9" cy="531.9" r="62" fill-opacity="0.233"/><circle cx="1024.6" cy="531.9" r="62" fill-opacity="0.274"/><circle cx="378.4" cy="590.6" r="62" fill-opacity="0.178"/><circle cx="437.1" cy="590.6" r="62" fill-opacity="0.017"/><circle cx="495.9" cy="590.6" r="62" fill-opacity="0.007"/><circle cx="554.6" cy="590.6" r="62" fill-opacity="0.216"/><circle cx="613.4" cy="590.6" r="62" fill-opacity="0.006"/><circle cx="730.9" cy="590.6" r="62" fill-opacity="0.121"/><circle cx="789.6" cy="590.6" r="62" fill-opacity="0.063"/><circle cx="907.1" cy="590.6" r="62" fill-opacity="0.217"/><circle cx="965.9" cy="590.6" r="62" fill-opacity="0.246"/><circle cx="1024.6" cy="590.6" r="62" fill-opacity="0.147"/><circle cx="378.4" cy="649.4" r="62" fill-opacity="0.130"/><circle cx="437.1" cy="649.4" r="62" fill-opacity="0.148"/><circle cx="495.9" cy="649.4" r="62" fill-opacity="0.089"/><circle cx="554.6" cy="649.4" r="62" fill-opacity="0.145"/><circle cx="613.4" cy="649.4" r="62" fill-opacity="0.097"/><circle cx="672.1" cy="649.4" r="62" fill-opacity="0.081"/><circle cx="730.9" cy="649.4" r="62" fill-opacity="0.196"/><circle cx="789.6" cy="649.4" r="62" fill-opacity="0.087"/><circle cx="848.4" cy="649.4" r="62" fill-opacity="0.166"/><circle cx="907.1" cy="649.4" r="62" fill-opacity="0.162"/><circle cx="965.9" cy="649.4" r="62" fill-opacity="0.187"/><circle cx="1024.6" cy="649.4" r="62" fill-opacity="0.296"/><circle cx="378.4" cy="708.1" r="62" fill-opacity="0.160"/><circle cx="437.1" cy="708.1" r="62" fill-opacity="0.175"/><circle cx="495.9" cy="708.1" r="62" fill-opacity="0.201"/><circle cx="613.4" cy="708.1" r="62" fill-opacity="0.262"/><circle cx="672.1" cy="708.1" r="62" fill-opacity="0.130"/><circle cx="730.9" cy="708.1" r="62" fill-opacity="0.111"/><circle cx="789.6" cy="708.1" r="62" fill-opacity="0.143"/><circle cx="848.4" cy="708.1" r="62" fill-opacity="0.185"/><circle cx="907.1" cy="708.1" r="62" fill-opacity="0.025"/><circle cx="965.9" cy="708.1" r="62" fill-opacity="0.163"/><circle cx="1024.6" cy="708.1" r="62" fill-opacity="0.128"/><circle cx="378.4" cy="766.9" r="62" fill-opacity="0.160"/><circle cx="437.1" cy="766.9" r="62" fill-opacity="0.022"/><circle cx="495.9" cy="766.9" r="62" fill-opacity="0.124"/><circle cx="554.6" cy="766.9" r="62" fill-opacity="0.237"/><circle cx="613.4" cy="766.9" r="62" fill-opacity="0.084"/><circle cx="672.1" cy="766.9" r="62" fill-opacity="0.232"/><circle cx="730.9" cy="766.9" r="62" fill-opacity="0.186"/><circle cx="789.6" cy="766.9" r="62" fill-opacity="0.092"/><circle cx="848.4" cy="766.9" r="62" fill-opacity="0.361"/><circle cx="907.1" cy="766.9" r="62" fill-opacity="0.208"/><circle cx="965.9" cy="766.9" r="62" fill-opacity="0.208"/><circle cx="1024.6" cy="766.9" r="62" fill-opacity="0.208"/><circle cx="378.4" cy="825.6" r="62" fill-opacity="0.160"/><circle cx="437.1" cy="825.6" r="62" fill-opacity="0.160"/><circle cx="495.9" cy="825.6" r="62" fill-opacity="0.128"/><circle cx="554.6" cy="825.6" r="62" fill-opacity="0.053"/><circle cx="613.4" cy="825.6" r="62" fill-opacity="0.136"/><circle cx="672.1" cy="825.6" r="62" fill-opacity="0.181"/><circle cx="730.9" cy="825.6" r="62" fill-opacity="0.140"/><circle cx="789.6" cy="825.6" r="62" fill-opacity="0.220"/><circle cx="848.4" cy="825.6" r="62" fill-opacity="0.021"/><circle cx="907.1" cy="825.6" r="62" fill-opacity="0.208"/><circle cx="965.9" cy="825.6" r="62" fill-opacity="0.208"/><circle cx="1024.6" cy="825.6" r="62" fill-opacity="0.208"/></g><g fill="none" stroke="#000" stroke-linecap="round" stroke-linejoin="round"><path d="M834 505L838 532L830 555L820 574L807 593L786 617L770 630L746 641L722 644L700 632L679 636L658 652L637 660" stroke-width="22" stroke-opacity="0.15"/><path d="M834 505L838 532L830 555L820 574L807 593L786 617L770 630L746 641L722 644L700 632L679 636L658 652L637 660" stroke-width="11" stroke-opacity="0.18"/><path d="M546 601L555 628L573 641L592 657L600 670L613 689L632 699L658 705" stroke-width="22" stroke-opacity="0.15"/><path d="M546 601L555 628L573 641L592 657L600 670L613 689L632 699L658 705" stroke-width="11" stroke-opacity="0.18"/><path d="M801 673L830 665L860 654" stroke-width="19" stroke-opacity="0.12"/><path d="M801 673L830 665L860 654" stroke-width="9" stroke-opacity="0.15"/><path d="M598 470L600 500L603 530L610 560L620 585" stroke-width="19" stroke-opacity="0.12"/><path d="M598 470L600 500L603 530L610 560L620 585" stroke-width="9" stroke-opacity="0.15"/><path d="M420 470L418 510L420 550L424 590L430 630" stroke-width="25" stroke-opacity="0.17"/><path d="M420 470L418 510L420 550L424 590L430 630" stroke-width="12" stroke-opacity="0.21"/></g></g><filter id="wob" filterUnits="userSpaceOnUse" x="400" y="150" width="620" height="560" color-interpolation-filters="sRGB"><feTurbulence type="fractalNoise" baseFrequency="0.06" numOctaves="2" seed="4" result="n"/><feDisplacementMap in="SourceGraphic" in2="n" scale="7" xChannelSelector="R" yChannelSelector="G" result="d"/><feGaussianBlur in="d" stdDeviation="1.1"/></filter></defs><g clip-path="url(#cc)"><circle cx="701.4" cy="502.4" r="352.0" fill="#f1eeea"/><g filter="url(#fcream)"><circle cx="701.4" cy="502.4" r="352.0" fill-opacity="0.5"/></g>
<g filter="url(#fgray)"><circle cx="701.4" cy="502.4" r="352.0" fill-opacity="0.5"/></g>
<g clip-path="url(#s0)"><g filter="url(#fsec0)"><use href="#dens"/></g></g>
<g clip-path="url(#s1)"><g filter="url(#fsec1)"><use href="#dens"/></g></g>
<g clip-path="url(#s2)"><g filter="url(#fsec2)"><use href="#dens"/></g></g>
<g clip-path="url(#s3)"><g filter="url(#fsec3)"><use href="#dens"/></g></g>
<g clip-path="url(#s4)"><g filter="url(#fsec4)"><use href="#dens"/></g></g>
<g clip-path="url(#s5)"><g filter="url(#fsec5)"><use href="#dens"/></g></g>
<g clip-path="url(#s6)"><g filter="url(#fsec6)"><use href="#dens"/></g></g>
<g clip-path="url(#s7)"><g filter="url(#fsec7)"><use href="#dens"/></g></g>
<g clip-path="url(#s0)"><g filter="url(#fmain0)"><use href="#dens"/></g></g>
<g clip-path="url(#s1)"><g filter="url(#fmain1)"><use href="#dens"/></g></g>
<g clip-path="url(#s2)"><g filter="url(#fmain2)"><use href="#dens"/></g></g>
<g clip-path="url(#s3)"><g filter="url(#fmain3)"><use href="#dens"/></g></g>
<g clip-path="url(#s4)"><g filter="url(#fmain4)"><use href="#dens"/></g></g>
<g clip-path="url(#s5)"><g filter="url(#fmain5)"><use href="#dens"/></g></g>
<g clip-path="url(#s6)"><g filter="url(#fmain6)"><use href="#dens"/></g></g>
<g clip-path="url(#s7)"><g filter="url(#fmain7)"><use href="#dens"/></g></g>
<g filter="url(#wob)" fill="none" stroke-linecap="round" stroke-linejoin="round">
<path d="M887.4 306.6L898.4 313.2L911.6 317.6L920.4 326.4L927.0 331.9L924.8 341.8L922.6 352.8L929.2 366.0" stroke="#ec9050" stroke-width="13.8" opacity="0.6"/>
<path d="M872.0 295.6L883.0 297.8L894.0 295.6L905.0 293.4" stroke="#ec9050" stroke-width="12.2" opacity="0.6"/>
<path d="M858.8 275.8L867.6 278.0L872.0 273.6" stroke="#ec9050" stroke-width="12.2" opacity="0.6"/>
<path d="M854.4 282.4L858.8 291.2L865.4 295.6" stroke="#ec9050" stroke-width="11.4" opacity="0.6"/>
<path d="M845.6 264.8L854.4 267.0L863.2 264.8L872.0 269.2L878.6 278.0L885.2 282.4" stroke="#ec9050" stroke-width="11.4" opacity="0.6"/>
<path d="M803.8 251.6L814.8 256.0L823.6 253.8" stroke="#ec9050" stroke-width="13.0" opacity="0.6"/>
<path d="M768.6 236.2L775.2 245.0L784.0 249.4L792.8 247.2" stroke="#ec9050" stroke-width="13.0" opacity="0.6"/>
<path d="M781.8 214.2L792.8 218.6L799.4 223.0L795.0 229.6L784.0 227.4" stroke="#ec9050" stroke-width="11.4" opacity="0.6"/>
<path d="M810.4 223.0L823.6 216.4L836.8 215.3L850.0 216.4" stroke="#ec9050" stroke-width="11.4" opacity="0.6"/>
<path d="M832.4 223.0L841.2 238.4L847.8 249.4L858.8 249.4" stroke="#ec9050" stroke-width="11.4" opacity="0.6"/>
<path d="M806.0 273.6L814.8 271.4L819.2 267.0" stroke="#ec9050" stroke-width="11.4" opacity="0.6"/>
<path d="M823.6 273.6L828.0 280.2L834.6 284.6" stroke="#ec9050" stroke-width="11.4" opacity="0.6"/>
<path d="M799.4 238.4L810.4 238.4L817.0 237.3" stroke="#ec9050" stroke-width="11.4" opacity="0.6"/>
<path d="M779.6 260.4L790.6 258.2L799.4 260.4" stroke="#ec9050" stroke-width="11.4" opacity="0.6"/>
<path d="M841.2 280.2L850.0 282.4L858.8 293.4L863.2 300.0" stroke="#ec9050" stroke-width="11.4" opacity="0.6"/>
<path d="M911.6 374.8L924.8 383.6L935.8 388.0" stroke="#ec9050" stroke-width="11.4" opacity="0.6"/>
<path d="M939.1 344.0L941.3 344.0" stroke="#ec9050" stroke-width="10.6" opacity="0.6"/>
<path d="M812.6 262.6L823.6 264.8L832.4 260.4" stroke="#ec9050" stroke-width="11.4" opacity="0.6"/>
<path d="M740.0 198.8L748.8 201.0L759.8 209.8" stroke="#ec9050" stroke-width="10.6" opacity="0.6"/>
<path d="M576.2 306.9L565.2 314.6L556.4 327.8L543.2 334.4L532.2 345.4L523.4 356.4L512.4 369.6L508.0 374.0" stroke="#ec9050" stroke-width="14.6" opacity="0.6"/>
<path d="M565.2 314.6L556.4 327.8L543.2 334.4" stroke="#ec9050" stroke-width="9.8" opacity="0.6"/>
<path d="M523.4 356.4L512.4 369.6L509.1 372.9" stroke="#ec9050" stroke-width="9.8" opacity="0.6"/>
<path d="M448.6 314.6L453.0 330.0L459.6 343.2L466.2 354.2L472.8 367.4" stroke="#ec9050" stroke-width="14.6" opacity="0.6"/>
<path d="M457.4 327.8L466.2 327.8L472.8 323.4L477.2 319.0" stroke="#ec9050" stroke-width="12.2" opacity="0.6"/>
<path d="M492.6 323.4L501.4 319.0" stroke="#ec9050" stroke-width="12.2" opacity="0.6"/>
<path d="M486.0 347.6L492.6 338.8" stroke="#ec9050" stroke-width="12.2" opacity="0.6"/>
<path d="M457.4 308.0L464.0 299.2L470.6 292.6" stroke="#ec9050" stroke-width="11.4" opacity="0.6"/>
<path d="M481.6 297.0L490.4 290.4" stroke="#ec9050" stroke-width="11.4" opacity="0.6"/>
<path d="M499.2 275.0L495.9 290.4" stroke="#ec9050" stroke-width="11.4" opacity="0.6"/>
<path d="M503.6 308.0L512.4 299.2L521.2 290.4L525.6 281.6" stroke="#ec9050" stroke-width="12.2" opacity="0.6"/>
<path d="M525.6 294.8L536.6 286.0L547.6 283.8" stroke="#ec9050" stroke-width="11.4" opacity="0.6"/>
<path d="M542.1 411.4L552.0 409.2" stroke="#ec9050" stroke-width="11.4" opacity="0.6"/>
<path d="M560.8 378.4L563.0 391.6" stroke="#ec9050" stroke-width="10.6" opacity="0.6"/>
<path d="M448.6 343.2L455.2 360.8L464.0 374.0L472.8 387.2" stroke="#ec9050" stroke-width="11.4" opacity="0.6"/>
<path d="M560.8 374.0L574.0 387.2" stroke="#ec9050" stroke-width="10.6" opacity="0.6"/>
<path d="M453.0 330.0L459.6 343.2L466.2 354.2" stroke="#ec9050" stroke-width="9.8" opacity="0.6"/>
<path d="M931.8 408.5L941.2 427.3" stroke="#ec9050" stroke-width="11.4" opacity="0.6"/>
<path d="M943.6 399.0L950.6 408.5" stroke="#ec9050" stroke-width="10.6" opacity="0.6"/>
<path d="M957.7 455.5L960.0 465.0" stroke="#ec9050" stroke-width="10.6" opacity="0.6"/>
<path d="M908.3 460.2L913.0 474.3" stroke="#ec9050" stroke-width="10.6" opacity="0.6"/>
<path d="M931.8 483.7L929.5 497.8" stroke="#ec9050" stroke-width="9.8" opacity="0.6"/>
<path d="M583.7 646.2L591.0 658.0L599.6 670.0" stroke="#ec9050" stroke-width="10.6" opacity="0.6"/>
<path d="M887.4 306.6L898.4 313.2L911.6 317.6L920.4 326.4L927.0 331.9L924.8 341.8L922.6 352.8L929.2 366.0" stroke="#e8200c" stroke-width="8.8"/>
<path d="M872.0 295.6L883.0 297.8L894.0 295.6L905.0 293.4" stroke="#e8200c" stroke-width="7.2"/>
<path d="M858.8 275.8L867.6 278.0L872.0 273.6" stroke="#e8200c" stroke-width="7.2"/>
<path d="M854.4 282.4L858.8 291.2L865.4 295.6" stroke="#f0300c" stroke-width="6.4"/>
<path d="M845.6 264.8L854.4 267.0L863.2 264.8L872.0 269.2L878.6 278.0L885.2 282.4" stroke="#f0300c" stroke-width="6.4"/>
<path d="M803.8 251.6L814.8 256.0L823.6 253.8" stroke="#e8200c" stroke-width="8.0"/>
<path d="M768.6 236.2L775.2 245.0L784.0 249.4L792.8 247.2" stroke="#e8200c" stroke-width="8.0"/>
<path d="M781.8 214.2L792.8 218.6L799.4 223.0L795.0 229.6L784.0 227.4" stroke="#f0300c" stroke-width="6.4"/>
<path d="M810.4 223.0L823.6 216.4L836.8 215.3L850.0 216.4" stroke="#f0300c" stroke-width="6.4"/>
<path d="M832.4 223.0L841.2 238.4L847.8 249.4L858.8 249.4" stroke="#f0300c" stroke-width="6.4"/>
<path d="M806.0 273.6L814.8 271.4L819.2 267.0" stroke="#e8200c" stroke-width="6.4"/>
<path d="M823.6 273.6L828.0 280.2L834.6 284.6" stroke="#e8200c" stroke-width="6.4"/>
<path d="M799.4 238.4L810.4 238.4L817.0 237.3" stroke="#f0300c" stroke-width="6.4"/>
<path d="M779.6 260.4L790.6 258.2L799.4 260.4" stroke="#f0300c" stroke-width="6.4"/>
<path d="M841.2 280.2L850.0 282.4L858.8 293.4L863.2 300.0" stroke="#f0300c" stroke-width="6.4"/>
<path d="M911.6 374.8L924.8 383.6L935.8 388.0" stroke="#f0300c" stroke-width="6.4"/>
<path d="M939.1 344.0L941.3 344.0" stroke="#f0300c" stroke-width="5.6"/>
<path d="M812.6 262.6L823.6 264.8L832.4 260.4" stroke="#f0300c" stroke-width="6.4"/>
<path d="M740.0 198.8L748.8 201.0L759.8 209.8" stroke="#f0300c" stroke-width="5.6"/>
<path d="M863.2 225.2L876.4 234.0L889.6 245.0L898.4 256.0L907.2 267.0" stroke="#e27820" stroke-width="5.4" opacity="0.75"/>
<path d="M740.0 262.6L753.2 260.4L766.4 258.2" stroke="#e27820" stroke-width="4.8" opacity="0.75"/>
<path d="M788.4 284.6L801.6 293.4L812.6 306.6L823.6 313.2" stroke="#e27820" stroke-width="4.8" opacity="0.75"/>
<path d="M740.0 216.4L757.6 223.0L768.6 216.4" stroke="#e27820" stroke-width="4.8" opacity="0.75"/>
<path d="M933.6 251.6L946.8 262.6L955.6 278.0" stroke="#e27820" stroke-width="4.8" opacity="0.75"/>
<path d="M753.2 234.0L748.8 242.8L757.6 249.4" stroke="#e27820" stroke-width="4.8" opacity="0.75"/>
<path d="M863.2 313.2L872.0 326.4L876.4 339.6" stroke="#e27820" stroke-width="4.8" opacity="0.75"/>
<path d="M902.8 379.2L916.0 383.6" stroke="#e27820" stroke-width="4.8" opacity="0.75"/>
<path d="M814.8 212.0L828.0 209.8L839.0 212.0" stroke="#3c5284" stroke-width="5.6"/>
<path d="M790.6 205.4L801.6 214.2L806.0 220.8" stroke="#3c5284" stroke-width="4.8"/>
<path d="M786.2 196.6L797.2 201.0" stroke="#3c5284" stroke-width="4.8"/>
<path d="M780.7 229.6L786.2 234.0" stroke="#3c5284" stroke-width="5.6"/>
<path d="M929.2 322.0L933.6 324.6" stroke="#3c5284" stroke-width="4.8"/>
<path d="M934.0 348.0L935.8 348.8" stroke="#3c5284" stroke-width="5.6"/>
<path d="M891.8 278.0L894.0 286.8L900.6 295.6" stroke="#a8bedc" stroke-width="4.8"/>
<path d="M768.6 249.4L770.8 241.7" stroke="#3c5284" stroke-width="4.8"/>
<path d="M576.2 306.9L565.2 314.6L556.4 327.8L543.2 334.4L532.2 345.4L523.4 356.4L512.4 369.6L508.0 374.0" stroke="#f0300c" stroke-width="9.6"/>
<path d="M565.2 314.6L556.4 327.8L543.2 334.4" stroke="#e8200c" stroke-width="4.8"/>
<path d="M523.4 356.4L512.4 369.6L509.1 372.9" stroke="#e8200c" stroke-width="4.8"/>
<path d="M448.6 314.6L453.0 330.0L459.6 343.2L466.2 354.2L472.8 367.4" stroke="#f0300c" stroke-width="9.6"/>
<path d="M457.4 327.8L466.2 327.8L472.8 323.4L477.2 319.0" stroke="#e8200c" stroke-width="7.2"/>
<path d="M492.6 323.4L501.4 319.0" stroke="#e8200c" stroke-width="7.2"/>
<path d="M486.0 347.6L492.6 338.8" stroke="#e8200c" stroke-width="7.2"/>
<path d="M457.4 308.0L464.0 299.2L470.6 292.6" stroke="#f0300c" stroke-width="6.4"/>
<path d="M481.6 297.0L490.4 290.4" stroke="#f0300c" stroke-width="6.4"/>
<path d="M499.2 275.0L495.9 290.4" stroke="#f0300c" stroke-width="6.4"/>
<path d="M503.6 308.0L512.4 299.2L521.2 290.4L525.6 281.6" stroke="#f0300c" stroke-width="7.2"/>
<path d="M525.6 294.8L536.6 286.0L547.6 283.8" stroke="#f0300c" stroke-width="6.4"/>
<path d="M547.6 275.0L560.8 277.2L574.0 281.6" stroke="#e27820" stroke-width="4.8" opacity="0.75"/>
<path d="M542.1 411.4L552.0 409.2" stroke="#f0300c" stroke-width="6.4"/>
<path d="M545.4 413.6L552.0 422.4L556.4 435.6" stroke="#e27820" stroke-width="4.8" opacity="0.75"/>
<path d="M560.8 378.4L563.0 391.6" stroke="#f0300c" stroke-width="5.6"/>
<path d="M578.4 268.4L587.2 270.6" stroke="#e27820" stroke-width="4.8" opacity="0.75"/>
<path d="M626.8 242.0L640.0 248.6" stroke="#e27820" stroke-width="4.8" opacity="0.75"/>
<path d="M560.8 253.0L556.4 268.4" stroke="#e27820" stroke-width="4.8" opacity="0.75"/>
<path d="M620.2 272.8L631.2 277.2" stroke="#e27820" stroke-width="4.8" opacity="0.75"/>
<path d="M534.4 264.0L543.2 266.2" stroke="#e27820" stroke-width="4.8" opacity="0.75"/>
<path d="M455.2 275.0L453.0 286.0" stroke="#e27820" stroke-width="4.8" opacity="0.75"/>
<path d="M475.0 369.6L479.4 382.8L486.0 396.0" stroke="#e27820" stroke-width="4.8" opacity="0.75"/>
<path d="M448.6 343.2L455.2 360.8L464.0 374.0L472.8 387.2" stroke="#f0300c" stroke-width="6.4"/>
<path d="M453.0 356.4L464.0 365.2L477.2 374.0" stroke="#e27820" stroke-width="6.0" opacity="0.75"/>
<path d="M508.0 270.6L514.6 279.4" stroke="#e27820" stroke-width="4.8" opacity="0.75"/>
<path d="M574.0 312.4L587.2 323.4L596.0 334.4" stroke="#e27820" stroke-width="4.8" opacity="0.75"/>
<path d="M543.2 356.4L552.0 365.2" stroke="#e27820" stroke-width="4.8" opacity="0.75"/>
<path d="M560.8 374.0L574.0 387.2" stroke="#f0300c" stroke-width="5.6"/>
<path d="M519.0 391.6L530.0 396.0" stroke="#e27820" stroke-width="4.8" opacity="0.75"/>
<path d="M618.0 319.0L629.0 325.6" stroke="#e27820" stroke-width="4.8" opacity="0.75"/>
<path d="M600.4 352.0L609.2 360.8" stroke="#e27820" stroke-width="4.8" opacity="0.75"/>
<path d="M453.0 330.0L459.6 343.2L466.2 354.2" stroke="#e8200c" stroke-width="4.8"/>
<path d="M531.1 320.1L534.4 320.8" stroke="#3c5284" stroke-width="6.4"/>
<path d="M475.0 338.8L476.1 339.9" stroke="#3c5284" stroke-width="6.4"/>
<path d="M464.0 328.9L466.2 330.0" stroke="#3c5284" stroke-width="5.6"/>
<path d="M455.2 319.0L456.3 325.6" stroke="#a8bedc" stroke-width="4.8"/>
<path d="M481.6 332.2L489.3 331.1" stroke="#3c5284" stroke-width="4.8"/>
<path d="M470.6 352.0L477.2 361.9" stroke="#a8bedc" stroke-width="4.8"/>
<path d="M552.0 338.8L552.0 342.1" stroke="#a8bedc" stroke-width="4.8"/>
<path d="M462.9 248.6L467.3 248.6" stroke="#a8bedc" stroke-width="4.8"/>
<path d="M556.4 378.4L557.5 381.7" stroke="#a8bedc" stroke-width="4.8"/>
<path d="M549.8 366.3L552.0 367.4" stroke="#a8bedc" stroke-width="4.8"/>
<path d="M931.8 408.5L941.2 427.3" stroke="#e8200c" stroke-width="6.4"/>
<path d="M943.6 399.0L950.6 408.5" stroke="#f0300c" stroke-width="5.6"/>
<path d="M957.7 455.5L960.0 465.0" stroke="#f0300c" stroke-width="5.6"/>
<path d="M908.3 460.2L913.0 474.3" stroke="#f0300c" stroke-width="5.6"/>
<path d="M931.8 483.7L929.5 497.8" stroke="#f0300c" stroke-width="4.8"/>
<path d="M905.0 372.0L915.0 390.0L925.0 400.0" stroke="#e27820" stroke-width="4.2" opacity="0.75"/>
<path d="M583.7 646.2L591.0 658.0L599.6 670.0" stroke="#f0300c" stroke-width="5.6"/>
<path d="M887.4 306.6L898.4 313.2L911.6 317.6L920.4 326.4L927.0 331.9L924.8 341.8L922.6 352.8L929.2 366.0" stroke="#9a1a30" stroke-width="5.8"/>
<path d="M872.0 295.6L883.0 297.8L894.0 295.6L905.0 293.4" stroke="#9a1a30" stroke-width="4.7"/>
<path d="M858.8 275.8L867.6 278.0L872.0 273.6" stroke="#9a1a30" stroke-width="4.7"/>
<path d="M803.8 251.6L814.8 256.0L823.6 253.8" stroke="#9a1a30" stroke-width="5.2"/>
<path d="M768.6 236.2L775.2 245.0L784.0 249.4L792.8 247.2" stroke="#9a1a30" stroke-width="5.2"/>
<path d="M806.0 273.6L814.8 271.4L819.2 267.0" stroke="#9a1a30" stroke-width="4.2"/>
<path d="M823.6 273.6L828.0 280.2L834.6 284.6" stroke="#9a1a30" stroke-width="4.2"/>
<path d="M565.2 314.6L556.4 327.8L543.2 334.4" stroke="#9a1a30" stroke-width="3.2"/>
<path d="M523.4 356.4L512.4 369.6L509.1 372.9" stroke="#9a1a30" stroke-width="3.2"/>
<path d="M457.4 327.8L466.2 327.8L472.8 323.4L477.2 319.0" stroke="#9a1a30" stroke-width="4.7"/>
<path d="M492.6 323.4L501.4 319.0" stroke="#9a1a30" stroke-width="4.7"/>
<path d="M486.0 347.6L492.6 338.8" stroke="#9a1a30" stroke-width="4.7"/>
<path d="M453.0 330.0L459.6 343.2L466.2 354.2" stroke="#9a1a30" stroke-width="3.2"/>
<path d="M931.8 408.5L941.2 427.3" stroke="#9a1a30" stroke-width="4.2"/>
</g>
<line x1="809.8" y1="203" x2="739.6" y2="397.4" stroke="#fff" stroke-width="0.9" opacity="0.9"/>
<g filter="url(#bl3)">
<path d="M580.0 422.0 L576.0 403.0 L586.0 387.0 L604.0 372.8 L623.0 366.0 L642.0 372.8 L655.0 387.0 L668.0 400.0 L680.0 408.0 L690.0 440.0 L640.0 470.0 L590.0 450.0Z" fill="#ececec"/>
<path d="M618.0 545.0 L622.0 562.0 L644.0 590.0 L675.0 612.0 L712.0 627.0 L747.0 626.0 L768.0 615.0 L784.0 602.0 L790.0 590.0 L740.0 570.0 L700.0 550.0 L660.0 545.0Z" fill="#ececec"/>
</g>
<path d="M686.8 522.0 L700.0 531.7 L710.0 537.2 L718.2 547.2 L720.3 557.0 L716.8 562.6 L710.0 564.7 L698.0 563.5 L686.8 561.4 L676.9 561.4 L674.7 543.8 L682.4 539.4 L684.6 531.7Z" fill="#fff"/>
<g fill="none" stroke="#fff" stroke-width="4" stroke-linejoin="round" opacity="0.9"><path d="M431.9 277.2 L434.6 288.0 L438.2 298.8 L440.0 306.0 L441.8 315.0 L436.4 324.0 L429.2 329.4 L425.6 333.0 L434.6 332.1 L440.0 331.2 L447.2 334.8 L449.9 345.6 L449.0 356.4 L443.6 367.2 L452.6 372.6 L454.4 378.0 L449.0 383.4 L458.0 385.2 L463.4 388.8 L468.8 396.0 L472.4 403.2 L476.0 406.8 L485.0 406.8 L488.6 412.2 L495.8 421.2 L503.0 428.4 L513.8 424.8 L524.6 421.2 L525.5 432.0 L517.4 439.2 L508.4 442.8 L497.6 446.4 L486.8 442.8 L476.0 441.0 L465.2 437.4 L454.4 432.0 L440.0 424.8 L429.2 417.6 L414.8 414.0 L404.0 406.8 L386.0 396.0 L368.0 390.6 L330.0 380.0 L330.0 230.0 L431.0 240.0Z"/><path d="M805.5 166.3 L806.4 174.0 L805.5 183.6 L803.6 186.4 L804.0 195.1 L807.4 197.0 L809.3 201.8 L815.1 202.3 L823.7 203.7 L832.3 206.6 L839.0 209.4 L849.6 210.9 L861.1 207.5 L873.5 203.7 L881.7 200.3 L900.0 180.0 L800.0 130.0Z"/><path d="M1020.5 650.9 L1005.3 647.1 L995.8 641.4 L988.2 642.4 L982.5 649.0 L981.6 658.5 L980.6 666.1 L974.9 677.5 L973.0 685.1 L974.9 690.8 L971.1 702.2 L967.3 709.8 L961.6 721.2 L954.0 728.8 L944.5 734.5 L935.0 733.6 L925.5 730.7 L923.6 747.8 L919.8 740.2 L917.9 733.6 L916.0 742.1 L910.3 738.3 L902.7 736.4 L893.2 733.6 L883.7 734.5 L874.2 740.2 L868.5 744.0 L860.9 744.9 L851.4 761.1 L855.2 778.2 L857.1 793.4 L859.0 816.2 L860.0 870.0 L1100.0 700.0 L1060.0 620.0Z"/><path d="M843.8 721.2 L851.4 720.3 L862.8 730.7 L851.4 736.4 L847.6 740.2 L842.9 728.8Z"/><path d="M746.0 740.9 L757.0 740.4 L759.2 743.1 L757.0 750.8 L748.2 760.7 L741.6 768.4 L738.3 779.4 L733.9 779.4 L729.5 777.2 L728.4 773.9 L733.9 761.8 L739.4 755.2 L741.6 745.3Z"/><path d="M724.0 776.1 L726.2 781.6 L727.3 786.0 L732.8 789.3 L728.4 794.8 L728.4 805.8 L741.6 820.1 L739.4 821.2 L732.8 812.4 L726.2 806.9 L722.9 808.0 L719.6 801.4 L709.7 802.5 L709.7 797.0 L713.0 792.6 L717.4 790.4 L718.5 782.7 L721.8 777.2Z"/><path d="M582.0 419.6 L584.3 420.0 L584.6 425.0 L583.6 428.5 L583.3 434.0 L583.3 436.3 L588.2 444.0 L589.6 450.3 L593.8 452.4 L600.8 450.3 L609.2 451.7 L615.5 453.8 L623.2 458.0 L629.5 462.9 L635.1 469.2 L637.2 475.5 L640.7 468.5 L647.0 464.3 L654.0 462.2 L660.3 455.2 L664.3 448.2 L666.3 438.1 L669.3 428.1 L672.3 420.1 L679.3 412.1 L681.3 405.0 L684.0 403.0 L687.4 401.0 L689.0 397.5 L692.4 400.0 L694.5 396.5 L696.4 397.0 L701.0 402.1 L708.0 398.0 L715.1 396.5 L726.1 398.0 L736.1 401.0 L743.1 406.1 L752.2 407.6 L762.2 409.1 L765.2 406.6 L768.2 417.1 L776.2 415.1 L784.3 416.1 L793.3 423.1 L794.3 425.1 L800.3 422.1 L806.3 425.1 L808.3 431.1 L806.3 434.1 L807.3 439.2 L809.3 445.2 L813.4 459.2 L801.3 465.2 L806.3 471.3 L812.3 477.3 L819.0 480.0 L826.0 491.2 L828.0 502.4 L827.3 516.4 L828.0 530.4 L821.7 541.6 L821.7 555.6 L810.6 564.0 L806.4 571.0 L798.0 580.8 L796.6 589.2 L786.8 596.1 L772.8 601.7 L758.8 603.1 L747.6 605.9 L735.0 606.0 L722.4 600.3 L718.2 592.0 L722.4 578.0 L721.0 566.8 L716.8 562.6 L720.3 557.0 L718.2 547.2 L708.4 536.0 L700.0 534.6 L686.8 524.0 L684.6 531.7 L682.4 539.4 L674.7 543.8 L678.0 557.0 L675.8 565.8 L671.4 563.6 L667.0 559.2 L660.4 564.7 L642.8 559.2 L641.7 549.3 L626.3 550.4 L624.1 543.8 L628.5 537.2 L621.9 532.8 L623.0 527.3 L621.9 517.4 L610.9 520.7 L605.4 519.6 L606.5 511.9 L609.8 502.0 L609.8 491.0 L612.0 484.6 L609.9 482.5 L616.9 477.6 L616.2 466.4 L609.2 463.6 L600.8 462.9 L598.0 459.4 L591.0 458.0 L588.2 459.4 L584.7 455.9 L586.1 453.1 L581.9 446.1 L577.7 442.6 L576.3 437.7 L578.4 430.0 L578.0 424.0 L579.5 420.5Z"/></g>
<path d="M431.9 277.2 L434.6 288.0 L438.2 298.8 L440.0 306.0 L441.8 315.0 L436.4 324.0 L429.2 329.4 L425.6 333.0 L434.6 332.1 L440.0 331.2 L447.2 334.8 L449.9 345.6 L449.0 356.4 L443.6 367.2 L452.6 372.6 L454.4 378.0 L449.0 383.4 L458.0 385.2 L463.4 388.8 L468.8 396.0 L472.4 403.2 L476.0 406.8 L485.0 406.8 L488.6 412.2 L495.8 421.2 L503.0 428.4 L513.8 424.8 L524.6 421.2 L525.5 432.0 L517.4 439.2 L508.4 442.8 L497.6 446.4 L486.8 442.8 L476.0 441.0 L465.2 437.4 L454.4 432.0 L440.0 424.8 L429.2 417.6 L414.8 414.0 L404.0 406.8 L386.0 396.0 L368.0 390.6 L330.0 380.0 L330.0 230.0 L431.0 240.0Z" fill="#808080" stroke="#000" stroke-width="1"/>
<path d="M805.5 166.3 L806.4 174.0 L805.5 183.6 L803.6 186.4 L804.0 195.1 L807.4 197.0 L809.3 201.8 L815.1 202.3 L823.7 203.7 L832.3 206.6 L839.0 209.4 L849.6 210.9 L861.1 207.5 L873.5 203.7 L881.7 200.3 L900.0 180.0 L800.0 130.0Z" fill="#808080" stroke="#000" stroke-width="1"/>
<path d="M1020.5 650.9 L1005.3 647.1 L995.8 641.4 L988.2 642.4 L982.5 649.0 L981.6 658.5 L980.6 666.1 L974.9 677.5 L973.0 685.1 L974.9 690.8 L971.1 702.2 L967.3 709.8 L961.6 721.2 L954.0 728.8 L944.5 734.5 L935.0 733.6 L925.5 730.7 L923.6 747.8 L919.8 740.2 L917.9 733.6 L916.0 742.1 L910.3 738.3 L902.7 736.4 L893.2 733.6 L883.7 734.5 L874.2 740.2 L868.5 744.0 L860.9 744.9 L851.4 761.1 L855.2 778.2 L857.1 793.4 L859.0 816.2 L860.0 870.0 L1100.0 700.0 L1060.0 620.0Z" fill="#808080" stroke="#000" stroke-width="1"/>
<path d="M582.0 419.6 L584.3 420.0 L584.6 425.0 L583.6 428.5 L583.3 434.0 L583.3 436.3 L588.2 444.0 L589.6 450.3 L593.8 452.4 L600.8 450.3 L609.2 451.7 L615.5 453.8 L623.2 458.0 L629.5 462.9 L635.1 469.2 L637.2 475.5 L640.7 468.5 L647.0 464.3 L654.0 462.2 L660.3 455.2 L664.3 448.2 L666.3 438.1 L669.3 428.1 L672.3 420.1 L679.3 412.1 L681.3 405.0 L684.0 403.0 L687.4 401.0 L689.0 397.5 L692.4 400.0 L694.5 396.5 L696.4 397.0 L701.0 402.1 L708.0 398.0 L715.1 396.5 L726.1 398.0 L736.1 401.0 L743.1 406.1 L752.2 407.6 L762.2 409.1 L765.2 406.6 L768.2 417.1 L776.2 415.1 L784.3 416.1 L793.3 423.1 L794.3 425.1 L800.3 422.1 L806.3 425.1 L808.3 431.1 L806.3 434.1 L807.3 439.2 L809.3 445.2 L813.4 459.2 L801.3 465.2 L806.3 471.3 L812.3 477.3 L819.0 480.0 L826.0 491.2 L828.0 502.4 L827.3 516.4 L828.0 530.4 L821.7 541.6 L821.7 555.6 L810.6 564.0 L806.4 571.0 L798.0 580.8 L796.6 589.2 L786.8 596.1 L772.8 601.7 L758.8 603.1 L747.6 605.9 L735.0 606.0 L722.4 600.3 L718.2 592.0 L722.4 578.0 L721.0 566.8 L716.8 562.6 L720.3 557.0 L718.2 547.2 L708.4 536.0 L700.0 534.6 L686.8 524.0 L684.6 531.7 L682.4 539.4 L674.7 543.8 L678.0 557.0 L675.8 565.8 L671.4 563.6 L667.0 559.2 L660.4 564.7 L642.8 559.2 L641.7 549.3 L626.3 550.4 L624.1 543.8 L628.5 537.2 L621.9 532.8 L623.0 527.3 L621.9 517.4 L610.9 520.7 L605.4 519.6 L606.5 511.9 L609.8 502.0 L609.8 491.0 L612.0 484.6 L609.9 482.5 L616.9 477.6 L616.2 466.4 L609.2 463.6 L600.8 462.9 L598.0 459.4 L591.0 458.0 L588.2 459.4 L584.7 455.9 L586.1 453.1 L581.9 446.1 L577.7 442.6 L576.3 437.7 L578.4 430.0 L578.0 424.0 L579.5 420.5Z" fill="#808080" stroke="#000" stroke-width="1"/>
<path d="M593.0 463.5 L612.0 464.5 L617.5 466.5 L617.8 477.8 L610.5 483.0 L604.0 480.5 L598.0 475.0 L594.5 468.0Z" fill="#fff"/>
<path d="M593.8 464.3 L612.0 465.7 L613.4 472.0 L606.4 478.3 L602.9 476.9 L602.9 469.2 L594.5 466.4Z" fill="#808080" stroke="#000" stroke-width="1"/>
<path d="M843.8 721.2 L851.4 720.3 L862.8 730.7 L851.4 736.4 L847.6 740.2 L842.9 728.8Z" fill="#808080" stroke="#000" stroke-width="1"/>
<path d="M746.0 740.9 L757.0 740.4 L759.2 743.1 L757.0 750.8 L748.2 760.7 L741.6 768.4 L738.3 779.4 L733.9 779.4 L729.5 777.2 L728.4 773.9 L733.9 761.8 L739.4 755.2 L741.6 745.3Z" fill="#808080" stroke="#000" stroke-width="1"/>
<path d="M724.0 776.1 L726.2 781.6 L727.3 786.0 L732.8 789.3 L728.4 794.8 L728.4 805.8 L741.6 820.1 L739.4 821.2 L732.8 812.4 L726.2 806.9 L722.9 808.0 L719.6 801.4 L709.7 802.5 L709.7 797.0 L713.0 792.6 L717.4 790.4 L718.5 782.7 L721.8 777.2Z" fill="#808080" stroke="#000" stroke-width="1"/>
<path d="M801.3 465.2L813.4 459.2L816 468L813 478L806.3 471.3Z" fill="#fff"/>
<path d="M809.5 464.5L811 470L813 477" stroke="#e8200c" stroke-width="3.6" fill="none" stroke-linecap="round"/>
<path d="M815 462L818 469L822 476L826 481" stroke="#4a5f8e" stroke-width="3.6" fill="none" stroke-linecap="round"/>
<g fill="#808080" stroke="#000" stroke-width="1">
<ellipse cx="520" cy="397" rx="3.2" ry="2.2"/>
<ellipse cx="913" cy="423" rx="2" ry="2"/>
<ellipse cx="912" cy="732" rx="2.5" ry="1.2" transform="rotate(-30 912 732)"/>
</g>
<g fill="#000">
<ellipse cx="584" cy="345.5" rx="3" ry="1" transform="rotate(-10 584 345.5)"/>
<ellipse cx="572" cy="426" rx="1" ry="3"/>
<ellipse cx="743" cy="652" rx="1.2" ry="1"/>
<ellipse cx="683.5" cy="556" rx="1.3" ry="3" transform="rotate(15 683.5 556)"/>
</g>
<g fill="#fff">
<ellipse cx="656" cy="457" rx="6" ry="2" transform="rotate(-35 656 457)"/>
</g></g><g fill="none" stroke="#000" stroke-width="1" stroke-dasharray="1.2 2.2" opacity="0.9"><circle cx="701.4" cy="502.4" r="31.95"/><circle cx="701.4" cy="502.4" r="96.56"/><circle cx="701.4" cy="502.4" r="163.36"/><circle cx="701.4" cy="502.4" r="234.03"/><circle cx="701.4" cy="502.4" r="310.65"/><line x1="701.4" y1="502.4" x2="701.40" y2="150.40"/><line x1="701.4" y1="502.4" x2="877.40" y2="197.56"/><line x1="701.4" y1="502.4" x2="1006.24" y2="326.40"/><line x1="701.4" y1="502.4" x2="1053.40" y2="502.40"/><line x1="701.4" y1="502.4" x2="1006.24" y2="678.40"/><line x1="701.4" y1="502.4" x2="877.40" y2="807.24"/><line x1="701.4" y1="502.4" x2="701.40" y2="854.40"/><line x1="701.4" y1="502.4" x2="525.40" y2="807.24"/><line x1="701.4" y1="502.4" x2="396.56" y2="678.40"/><line x1="701.4" y1="502.4" x2="349.40" y2="502.40"/><line x1="701.4" y1="502.4" x2="396.56" y2="326.40"/><line x1="701.4" y1="502.4" x2="525.40" y2="197.56"/></g><g stroke="#000" stroke-width="1.1" fill="none"><line x1="701.4" y1="502.4" x2="701.4" y2="534.4"/><line x1="690.4" y1="534.4" x2="703.4" y2="534.4"/><line x1="690.4" y1="599.0" x2="703.4" y2="599.0"/><line x1="690.4" y1="665.8" x2="703.4" y2="665.8"/><line x1="690.4" y1="736.4" x2="703.4" y2="736.4"/><line x1="690.4" y1="813.0" x2="703.4" y2="813.0"/><circle cx="701.4" cy="502.4" r="352.0"/><line x1="701.40" y1="150.40" x2="701.40" y2="143.40"/><line x1="877.40" y1="197.56" x2="880.90" y2="191.50"/><line x1="1006.24" y1="326.40" x2="1012.30" y2="322.90"/><line x1="1053.40" y1="502.40" x2="1060.40" y2="502.40"/><line x1="1006.24" y1="678.40" x2="1012.30" y2="681.90"/><line x1="877.40" y1="807.24" x2="880.90" y2="813.30"/><line x1="701.40" y1="854.40" x2="701.40" y2="861.40"/><line x1="525.40" y1="807.24" x2="521.90" y2="813.30"/><line x1="396.56" y1="678.40" x2="390.50" y2="681.90"/><line x1="349.40" y1="502.40" x2="342.40" y2="502.40"/><line x1="396.56" y1="326.40" x2="390.50" y2="322.90"/><line x1="525.40" y1="197.56" x2="521.90" y2="191.50"/></g><g transform="translate(701.40 131.40) rotate(0)"><text x="2.5" y="6.5" text-anchor="middle" font-size="17.5" fill="#000">0<tspan dx="1" dy="-6.5" font-size="12.5">o</tspan></text></g><g transform="translate(886.10 183.10) rotate(30)"><text x="2.5" y="6.5" text-anchor="middle" font-size="17.5" fill="#000">30<tspan dx="1" dy="-6.5" font-size="12.5">o</tspan><tspan dx="1" dy="6.5">E</tspan></text></g><g transform="translate(1022.20 316.90) rotate(60)"><text x="2.5" y="6.5" text-anchor="middle" font-size="17.5" fill="#000">60<tspan dx="1" dy="-6.5" font-size="12.5">o</tspan><tspan dx="1" dy="6.5">E</tspan></text></g><g transform="translate(1072.70 501.80) rotate(90)"><text x="2.5" y="6.5" text-anchor="middle" font-size="17.5" fill="#000">90<tspan dx="1" dy="-6.5" font-size="12.5">o</tspan><tspan dx="1" dy="6.5">E</tspan></text></g><g transform="translate(1026.10 690.70) rotate(-60)"><text x="2.5" y="6.5" text-anchor="middle" font-size="17.5" fill="#000">120<tspan dx="1" dy="-6.5" font-size="12.5">o</tspan><tspan dx="1" dy="6.5">E</tspan></text></g><g transform="translate(887.40 828.80) rotate(-30)"><text x="2.5" y="6.5" text-anchor="middle" font-size="17.5" fill="#000">150<tspan dx="1" dy="-6.5" font-size="12.5">o</tspan><tspan dx="1" dy="6.5">E</tspan></text></g><g transform="translate(700.20 875.80) rotate(0)"><text x="2.5" y="6.5" text-anchor="middle" font-size="17.5" fill="#000">180<tspan dx="1" dy="-6.5" font-size="12.5">o</tspan><tspan dx="1" dy="6.5">W</tspan></text></g><g transform="translate(513.40 826.80) rotate(30)"><text x="2.5" y="6.5" text-anchor="middle" font-size="17.5" fill="#000">150<tspan dx="1" dy="-6.5" font-size="12.5">o</tspan><tspan dx="1" dy="6.5">W</tspan></text></g><g transform="translate(375.40 688.40) rotate(60)"><text x="2.5" y="6.5" text-anchor="middle" font-size="17.5" fill="#000">120<tspan dx="1" dy="-6.5" font-size="12.5">o</tspan><tspan dx="1" dy="6.5">W</tspan></text></g><g transform="translate(331.60 503.40) rotate(-90)"><text x="2.5" y="6.5" text-anchor="middle" font-size="17.5" fill="#000">90<tspan dx="1" dy="-6.5" font-size="12.5">o</tspan><tspan dx="1" dy="6.5">W</tspan></text></g><g transform="translate(381.10 318.70) rotate(-60)"><text x="2.5" y="6.5" text-anchor="middle" font-size="17.5" fill="#000">60<tspan dx="1" dy="-6.5" font-size="12.5">o</tspan><tspan dx="1" dy="6.5">W</tspan></text></g><g transform="translate(516.70 182.70) rotate(-30)"><text x="2.5" y="6.5" text-anchor="middle" font-size="17.5" fill="#000">30<tspan dx="1" dy="-6.5" font-size="12.5">o</tspan><tspan dx="1" dy="6.5">W</tspan></text></g><text x="715.5" y="545.6" font-size="17.5" fill="#000">84<tspan dx="1.3" dy="-6.5" font-size="12.5">o</tspan><tspan dx="0" dy="7.5">S</tspan></text><text x="714.0" y="610.2" font-size="17.5" fill="#000">72<tspan dx="1.3" dy="-6.5" font-size="12.5">o</tspan><tspan dx="0" dy="7.5">S</tspan></text><text x="708.5" y="677.0" font-size="17.5" fill="#000">60<tspan dx="1.3" dy="-6.5" font-size="12.5">o</tspan><tspan dx="0" dy="7.5">S</tspan></text><text x="705.4" y="747.6" font-size="17.5" fill="#000">48<tspan dx="1.3" dy="-6.5" font-size="12.5">o</tspan><tspan dx="0" dy="7.5">S</tspan></text><text x="702.1" y="824.2" font-size="17.5" fill="#000">36<tspan dx="1.3" dy="-6.5" font-size="12.5">o</tspan><tspan dx="0" dy="7.5">S</tspan></text><g stroke="#000" stroke-width="0.75"><line x1="701.40" y1="493.90" x2="701.40" y2="510.90"/><line x1="698.15" y1="494.55" x2="704.65" y2="510.25"/><line x1="695.39" y1="496.39" x2="707.41" y2="508.41"/><line x1="693.55" y1="499.15" x2="709.25" y2="505.65"/><line x1="692.90" y1="502.40" x2="709.90" y2="502.40"/><line x1="693.55" y1="505.65" x2="709.25" y2="499.15"/><line x1="695.39" y1="508.41" x2="707.41" y2="496.39"/><line x1="698.15" y1="510.25" x2="704.65" y2="494.55"/></g><defs><linearGradient id="cbg" x1="0" x2="1" y1="0" y2="0"><stop offset="0.000" stop-color="#3a3a3a"/><stop offset="0.177" stop-color="#253a65"/><stop offset="0.333" stop-color="#506494"/><stop offset="0.345" stop-color="#6a80aa"/><stop offset="0.413" stop-color="#d0e2f6"/><stop offset="0.461" stop-color="#e4ece6"/><stop offset="0.500" stop-color="#eeeeee"/><stop offset="0.540" stop-color="#fde8c8"/><stop offset="0.585" stop-color="#ecdcdc"/><stop offset="0.667" stop-color="#e07a00"/><stop offset="0.817" stop-color="#ff0000"/><stop offset="1.000" stop-color="#a0142e"/></linearGradient></defs><rect x="376.5" y="911.5" width="658.0" height="19.0" fill="url(#cbg)" stroke="#262626" stroke-width="1"/><line x1="376.5" y1="930.5" x2="376.5" y2="924.5" stroke="#262626" stroke-width="1"/><text x="376.5" y="956" text-anchor="middle" font-size="17" fill="#262626">-0.06</text><line x1="486.2" y1="930.5" x2="486.2" y2="924.5" stroke="#262626" stroke-width="1"/><text x="486.2" y="956" text-anchor="middle" font-size="17" fill="#262626">-0.04</text><line x1="595.8" y1="930.5" x2="595.8" y2="924.5" stroke="#262626" stroke-width="1"/><text x="595.8" y="956" text-anchor="middle" font-size="17" fill="#262626">-0.02</text><line x1="705.5" y1="930.5" x2="705.5" y2="924.5" stroke="#262626" stroke-width="1"/><text x="705.5" y="956" text-anchor="middle" font-size="17" fill="#262626">0</text><line x1="815.2" y1="930.5" x2="815.2" y2="924.5" stroke="#262626" stroke-width="1"/><text x="815.2" y="956" text-anchor="middle" font-size="17" fill="#262626">0.02</text><line x1="924.8" y1="930.5" x2="924.8" y2="924.5" stroke="#262626" stroke-width="1"/><text x="924.8" y="956" text-anchor="middle" font-size="17" fill="#262626">0.04</text><line x1="1034.5" y1="930.5" x2="1034.5" y2="924.5" stroke="#262626" stroke-width="1"/><text x="1034.5" y="956" text-anchor="middle" font-size="17" fill="#262626">0.06</text><text x="706" y="979" text-anchor="middle" font-size="16" fill="#262626"><tspan font-size="11" dy="-7">o</tspan><tspan dy="7">C/km</tspan></text></svg></body></html>
